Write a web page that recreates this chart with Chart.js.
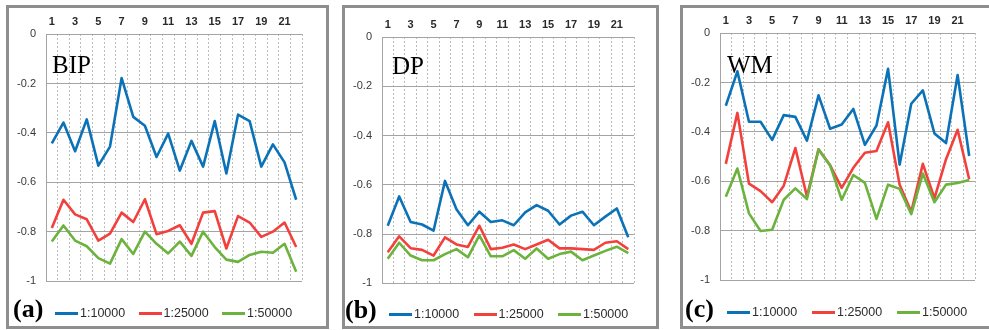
<!DOCTYPE html>
<html lang="en">
<head>
  <meta charset="UTF-8">
  <title>BIP / DP / WM</title>
  <script src="https://cdn.jsdelivr.net/npm/chart.js@4.4.1/dist/chart.umd.min.js"></script>
  <style>
    *{box-sizing:border-box}
    body{margin:0;width:989px;height:330px;background:#fff;position:relative;overflow:hidden;font-family:"Liberation Sans",Arial,sans-serif}
    .panel{position:absolute;top:5px;height:324px;border:3px solid #8e8e8e}
    .cv{position:absolute;top:8px}
    .name{position:absolute;top:52px;font:25px/25px "Liberation Serif",serif;color:#000}
    .tag{position:absolute;font:bold 26px/26px "Liberation Serif",serif;color:#000}
    .legend{position:absolute;height:16px;display:flex;align-items:center}
    .legend .item{display:flex;align-items:center;width:84px}
    .legend .ln{width:23px;height:3px;margin-right:2px}
    .legend .tx{font-size:12.5px;color:#2c2c2c}
  </style>
</head>
<body>
  <!-- panel frames -->
  <div class="panel" style="left:6px;width:323px"></div>
  <div class="panel" style="left:342px;width:317px"></div>
  <div class="panel" style="left:680px;width:312px"></div>

  <canvas id="chartA" class="cv" style="left:9px" width="300" height="290"></canvas>
  <canvas id="chartB" class="cv" style="left:346px" width="300" height="292"></canvas>
  <canvas id="chartC" class="cv" style="left:683px" width="300" height="289"></canvas>

  <div class="name" style="left:52px">BIP</div>
  <div class="name" style="left:392px;top:53px">DP</div>
  <div class="name" style="left:727px;top:52px">WM</div>

  <div class="tag" style="left:13px;top:296px">(a)</div>
  <div class="tag" style="left:345px;top:297px">(b)</div>
  <div class="tag" style="left:685px;top:296px">(c)</div>

  <div class="legend" id="legA" style="left:55px;top:305px"></div>
  <div class="legend" id="legB" style="left:389px;top:306px"></div>
  <div class="legend" id="legC" style="left:727px;top:304px"></div>

<script>
/****************  DATA  ****************/
const points=['1','2','3','4','5','6','7','8','9','10','11','12','13','14','15','16','17','18','19','20','21','22'];
const seriesNames=['1:10000','1:25000','1:50000'];
const yTicks=[0,-0.2,-0.4,-0.6,-0.8,-1];

// (a) BIP
const bip10000=[-0.442,-0.358,-0.474,-0.345,-0.532,-0.455,-0.178,-0.335,-0.371,-0.497,-0.403,-0.552,-0.432,-0.536,-0.352,-0.564,-0.326,-0.352,-0.536,-0.446,-0.519,-0.670];
const bip25000=[-0.784,-0.670,-0.729,-0.749,-0.835,-0.807,-0.722,-0.760,-0.668,-0.809,-0.796,-0.773,-0.848,-0.722,-0.716,-0.867,-0.736,-0.762,-0.820,-0.799,-0.762,-0.861];
const bip50000=[-0.839,-0.774,-0.835,-0.858,-0.906,-0.928,-0.829,-0.889,-0.799,-0.848,-0.887,-0.839,-0.897,-0.799,-0.861,-0.912,-0.921,-0.893,-0.880,-0.884,-0.848,-0.961];

// (b) DP
const dp10000=[-0.766,-0.647,-0.751,-0.761,-0.786,-0.584,-0.699,-0.764,-0.709,-0.751,-0.744,-0.764,-0.712,-0.682,-0.705,-0.761,-0.725,-0.709,-0.764,-0.729,-0.696,-0.813];
const dp25000=[-0.874,-0.809,-0.857,-0.864,-0.887,-0.813,-0.842,-0.852,-0.766,-0.861,-0.855,-0.842,-0.861,-0.842,-0.823,-0.858,-0.858,-0.861,-0.864,-0.835,-0.829,-0.861];
const dp50000=[-0.900,-0.835,-0.887,-0.906,-0.906,-0.881,-0.861,-0.894,-0.805,-0.890,-0.890,-0.865,-0.900,-0.858,-0.900,-0.881,-0.871,-0.906,-0.887,-0.868,-0.851,-0.877];

// (c) WM
const wm10000=[-0.294,-0.155,-0.359,-0.359,-0.432,-0.332,-0.339,-0.435,-0.252,-0.387,-0.370,-0.307,-0.452,-0.374,-0.145,-0.532,-0.286,-0.232,-0.406,-0.445,-0.170,-0.497];
const wm25000=[-0.529,-0.323,-0.609,-0.639,-0.684,-0.617,-0.465,-0.661,-0.470,-0.535,-0.626,-0.545,-0.484,-0.477,-0.361,-0.613,-0.723,-0.529,-0.668,-0.510,-0.391,-0.591];
const wm50000=[-0.662,-0.548,-0.729,-0.800,-0.795,-0.674,-0.628,-0.671,-0.471,-0.535,-0.674,-0.574,-0.606,-0.751,-0.613,-0.630,-0.732,-0.568,-0.684,-0.613,-0.606,-0.594];

const colors=['#0b72b8','#f2413d','#6cb33e'];

/****************  CHART  ****************/
// yw = y-axis width, xh = top axis height, pr/pb = right/bottom padding
function makeChart(id,sets,yw,xh,pr,pb){
  return new Chart(document.getElementById(id),{
    type:'line',
    data:{
      labels:points,
      datasets:sets.map((d,i)=>({
        label:seriesNames[i],data:d,borderColor:colors[i],borderWidth:2.6,
        pointRadius:0,tension:0,fill:false,order:2-i,borderJoinStyle:'round'
      }))
    },
    options:{
      responsive:false,animation:false,
      layout:{padding:{left:0,top:0,right:pr,bottom:pb}},
      plugins:{legend:{display:false},tooltip:{enabled:false}},
      scales:{
        x:{
          position:'top',offset:true,
          grid:{offset:true,color:'#bcbcbc',lineWidth:1,drawTicks:false},
          border:{display:false,dash:[2,2]},
          ticks:{autoSkip:false,maxRotation:0,padding:5,color:'#2a2a2a',
            font:{family:'Liberation Sans',size:11,weight:'bold'},
            callback:(v,i)=>i%2===0?points[i]:''},
          afterFit:s=>{s.height=xh;}
        },
        y:{
          min:-1,max:0,
          afterBuildTicks:s=>{s.ticks=yTicks.map(v=>({value:v}));},
          grid:{color:'#a4a4a4',lineWidth:1,drawTicks:false},
          border:{display:true,color:'#a4a4a4'},
          ticks:{padding:10,color:'#3a3a3a',font:{family:'Liberation Sans',size:11},
            callback:v=>String(+Number(v).toFixed(1))},
          afterFit:s=>{s.width=yw;}
        }
      }
    }
  });
}

makeChart('chartA',[bip10000,bip25000,bip50000],37,26,7,5);
makeChart('chartB',[dp10000,dp25000,dp50000],36,29,12,5);
makeChart('chartC',[wm10000,wm25000,wm50000],37,25,8,5);

/****************  LEGENDS  ****************/
function makeLegend(id,w){
  const el=document.getElementById(id);
  seriesNames.forEach((n,i)=>{
    const it=document.createElement('div');it.className='item';it.style.width=w+'px';
    it.innerHTML=`<span class="ln" style="background:${colors[i]}"></span><span class="tx">${n}</span>`;
    el.appendChild(it);
  });
}
makeLegend('legA',83.5);
makeLegend('legB',84.5);
makeLegend('legC',85);
</script>
</body>
</html>
